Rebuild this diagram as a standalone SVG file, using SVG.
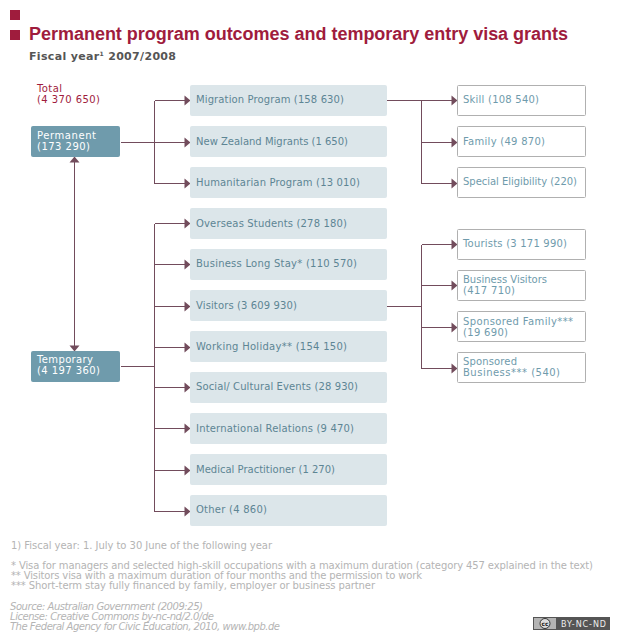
<svg xmlns="http://www.w3.org/2000/svg" width="620" height="640" viewBox="0 0 620 640">
<style>
text{font-family:"DejaVu Sans",Verdana,sans-serif;font-size:10px}
.sq{fill:#9f1c3d}
.title{font-family:"Liberation Sans",Arial,sans-serif;font-size:18px;font-weight:bold;fill:#9f1c3d}
.sub{font-size:11px;font-weight:bold;fill:#555555}
.total{fill:#9f1c3d}
.dark{fill:#6f9bac}
.darkt{fill:#ffffff}
.light{fill:#dce6ea}
.lightt{fill:#5d8594}
.out{fill:#ffffff;stroke:#b0b0b0;stroke-width:1}
.outt{fill:#6f9bac}
.foot{fill:#b4b4b4}
.src{fill:#b4b4b4;font-style:italic}
.c{fill:none;stroke:#724c5c;stroke-width:1;shape-rendering:crispEdges}
.h{fill:#724c5c}
</style>
<defs>
<path id="ar" class="h" d="M-5.5,-5L0.5,0L-5.5,5Z"/>
<path id="au" class="h" d="M-5,5.5L0,-0.5L5,5.5Z"/>
<path id="ad" class="h" d="M-5,-5.5L0,0.5L5,-5.5Z"/>
</defs>
<rect class="sq" x="10" y="10" width="10" height="10"/>
<rect class="sq" x="10" y="30" width="10" height="10"/>
<text class="title" x="29" y="40" textLength="539" lengthAdjust="spacing">Permanent program outcomes and temporary entry visa grants</text>
<text class="sub" x="29" y="60" textLength="147">Fiscal year<tspan font-size="6" dy="-4">1</tspan><tspan dy="4"> 2007/2008</tspan></text>
<text class="total" x="37" y="92" textLength="25">Total</text>
<text class="total" x="37" y="103" textLength="63">(4 370 650)</text>

<g id="connectors">
<path class="c" d="M120.5,142.5H185M154.5,100.5V183.5M154.5,100.5H185M154.5,183.5H185"/>
<path class="c" d="M120.5,366.5H154.5M154.5,223.5V511.5M154.5,223.5H185M154.5,264.5H185M154.5,306.5H185M154.5,347.5H185M154.5,387.5H185M154.5,428.5H185M154.5,470.5H185M154.5,511.5H185"/>
<path class="c" d="M74.5,160V348"/>
<path class="c" d="M387,100.5H452M421.5,100.5V183.5M421.5,142.5H452M421.5,183.5H452"/>
<path class="c" d="M387,306.5H421.5M421.5,244.5V368.5M421.5,244.5H452M421.5,285.5H452M421.5,327.5H452M421.5,368.5H452"/>
<use href="#au" x="74.5" y="157"/>
<use href="#ad" x="74.5" y="351"/>
<use href="#ar" x="190" y="100.5"/><use href="#ar" x="190" y="142.5"/><use href="#ar" x="190" y="183.5"/>
<use href="#ar" x="190" y="223.5"/><use href="#ar" x="190" y="264.5"/><use href="#ar" x="190" y="306.5"/><use href="#ar" x="190" y="347.5"/><use href="#ar" x="190" y="387.5"/><use href="#ar" x="190" y="428.5"/><use href="#ar" x="190" y="470.5"/><use href="#ar" x="190" y="511.5"/>
<use href="#ar" x="457" y="100.5"/><use href="#ar" x="457" y="142.5"/><use href="#ar" x="457" y="183.5"/>
<use href="#ar" x="457" y="244.5"/><use href="#ar" x="457" y="285.5"/><use href="#ar" x="457" y="327.5"/><use href="#ar" x="457" y="368.5"/>
</g>

<g id="n-permanent"><rect class="dark" x="31" y="126" width="89" height="31" rx="2"/><text class="darkt" x="37" y="139" textLength="59">Permanent</text><text class="darkt" x="37" y="150" textLength="53">(173 290)</text></g>
<g id="n-temporary"><rect class="dark" x="31" y="351" width="89" height="31" rx="2"/><text class="darkt" x="37" y="363" textLength="56">Temporary</text><text class="darkt" x="37" y="374" textLength="63">(4 197 360)</text></g>

<g id="n-migration"><rect class="light" x="190" y="85" width="197" height="31" rx="2"/><text class="lightt" x="196" y="103" textLength="148">Migration Program (158 630)</text></g>
<g id="n-nz"><rect class="light" x="190" y="126" width="197" height="31" rx="2"/><text class="lightt" x="196" y="145" textLength="152">New Zealand Migrants (1 650)</text></g>
<g id="n-humanitarian"><rect class="light" x="190" y="167" width="197" height="31" rx="2"/><text class="lightt" x="196" y="186" textLength="164">Humanitarian Program (13 010)</text></g>
<g id="n-overseas"><rect class="light" x="190" y="208" width="197" height="31" rx="2"/><text class="lightt" x="196" y="227" textLength="151">Overseas Students (278 180)</text></g>
<g id="n-business"><rect class="light" x="190" y="249" width="197" height="31" rx="2"/><text class="lightt" x="196" y="267" textLength="161">Business Long Stay* (110 570)</text></g>
<g id="n-visitors"><rect class="light" x="190" y="290" width="197" height="31" rx="2"/><text class="lightt" x="196" y="309" textLength="101">Visitors (3 609 930)</text></g>
<g id="n-holiday"><rect class="light" x="190" y="331" width="197" height="31" rx="2"/><text class="lightt" x="196" y="350" textLength="151">Working Holiday** (154 150)</text></g>
<g id="n-social"><rect class="light" x="190" y="372" width="197" height="31" rx="2"/><text class="lightt" x="196" y="390" textLength="162">Social/ Cultural Events (28 930)</text></g>
<g id="n-relations"><rect class="light" x="190" y="413" width="197" height="31" rx="2"/><text class="lightt" x="196" y="432" textLength="158">International Relations (9 470)</text></g>
<g id="n-medical"><rect class="light" x="190" y="454" width="197" height="31" rx="2"/><text class="lightt" x="196" y="473" textLength="139">Medical Practitioner (1 270)</text></g>
<g id="n-other"><rect class="light" x="190" y="495" width="197" height="31" rx="2"/><text class="lightt" x="196" y="513" textLength="71">Other (4 860)</text></g>

<g id="n-skill"><rect class="out" x="457.5" y="85.5" width="128" height="30" rx="1"/><text class="outt" x="463" y="103" textLength="76">Skill (108 540)</text></g>
<g id="n-family"><rect class="out" x="457.5" y="126.5" width="128" height="30" rx="1"/><text class="outt" x="463" y="145" textLength="82">Family (49 870)</text></g>
<g id="n-special"><rect class="out" x="457.5" y="167.5" width="128" height="30" rx="1"/><text class="outt" x="463" y="185" textLength="114">Special Eligibility (220)</text></g>
<g id="n-tourists"><rect class="out" x="457.5" y="229.5" width="128" height="30" rx="1"/><text class="outt" x="463" y="247" textLength="104">Tourists (3 171 990)</text></g>
<g id="n-bvisitors"><rect class="out" x="457.5" y="270.5" width="128" height="30" rx="1"/><text class="outt" x="463" y="283" textLength="84">Business Visitors</text><text class="outt" x="463" y="294" textLength="52">(417 710)</text></g>
<g id="n-sfamily"><rect class="out" x="457.5" y="311.5" width="128" height="30" rx="1"/><text class="outt" x="463" y="325" textLength="110">Sponsored Family***</text><text class="outt" x="463" y="336" textLength="45">(19 690)</text></g>
<g id="n-sbusiness"><rect class="out" x="457.5" y="352.5" width="128" height="30" rx="1"/><text class="outt" x="463" y="365" textLength="54">Sponsored</text><text class="outt" x="463" y="376" textLength="97">Business*** (540)</text></g>

<text class="foot" x="11" y="549" textLength="261">1) Fiscal year: 1. July to 30 June of the following year</text>
<text class="foot" x="11" y="569" textLength="582">* Visa for managers and selected high-skill occupations with a maximum duration (category 457 explained in the text)</text>
<text class="foot" x="11" y="579" textLength="411">** Visitors visa with a maximum duration of four months and the permission to work</text>
<text class="foot" x="11" y="589" textLength="364">*** Short-term stay fully financed by family, employer or business partner</text>
<text class="src" x="10" y="610" textLength="193">Source: Australian Government (2009:25)</text>
<text class="src" x="10" y="620" textLength="204">License: Creative Commons by-nc-nd/2.0/de</text>
<text class="src" x="10" y="630" textLength="270">The Federal Agency for Civic Education, 2010, www.bpb.de</text>

<g id="cc-badge">
<rect x="533" y="617" width="77" height="13" fill="#555555"/>
<rect x="534" y="618" width="75" height="11" fill="#b4b4b4"/>
<rect x="556" y="618" width="53" height="11" fill="#555555"/>
<circle cx="545" cy="623.5" r="5" fill="#dddddd" stroke="#333333" stroke-width="1"/>
<text x="545" y="626" text-anchor="middle" font-weight="bold" style="font-size:6px" fill="#222222">cc</text>
<text x="561" y="627" style="font-size:8px" fill="#eeeeee" textLength="45">BY-NC-ND</text>
</g>
</svg>
